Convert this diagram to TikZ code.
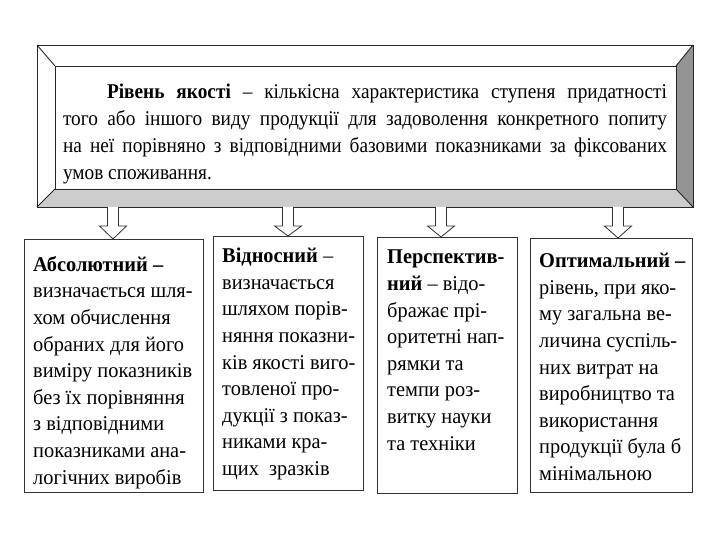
\documentclass[tikz,border=0pt]{standalone}
\usepackage{fontspec}
\setmainfont{Liberation Serif}
\newfontfamily\topfont{Liberation Serif}[FakeStretch=0.92]
\newfontfamily\boxfont{Liberation Serif}[FakeStretch=0.97]
\usetikzlibrary{calc}
\begin{document}
\begin{tikzpicture}[x=1pt,y=-1pt,line join=miter]
\useasboundingbox (0,0) rectangle (720,540);
\tikzset{
  frameline/.style={draw=black!85,line width=0.9pt},
  leaf/.style={draw=black!80,line width=1.1pt,fill=white,anchor=north west,inner sep=0pt},
  blockarrow/.style={draw=black!80,line width=0.8pt,fill=white},
  txt/.style={font=\boxfont\fontsize{21}{26.6}\selectfont,align=left,anchor=north west,inner sep=0pt},
  toptxt/.style={font=\topfont\fontsize{21}{27}\selectfont,align=justify,text width=604pt,inner sep=0pt,anchor=center}
}
% bevelled frame
\coordinate (o1) at (37,45);
\coordinate (o2) at (693,45);
\coordinate (o3) at (693,207);
\coordinate (o4) at (37,207);
\coordinate (i1) at (55,66);
\coordinate (i2) at (676,66);
\coordinate (i3) at (676,189);
\coordinate (i4) at (55,189);
\fill[white] (o1) -- (o2) -- (i2) -- (i1) -- cycle;
\fill[white] (o1) -- (i1) -- (i4) -- (o4) -- cycle;
\fill[black!42] (o2) -- (o3) -- (i3) -- (i2) -- cycle;
\fill[black!20] (i4) -- (i3) -- (o3) -- (o4) -- cycle;
\draw[frameline] (o1) rectangle (o3);
\draw[frameline] (i1) rectangle (i3);
\draw[frameline] (o1) -- (i1) (o2) -- (i2) (o3) -- (i3) (o4) -- (i4);
\node[toptxt] (def) at (365,134) {\hspace*{44pt}\textbf{Рівень якості} – кількісна характеристика ступеня придатності\linebreak того або іншого виду продукції для задоволення конкретного попиту\linebreak на неї порівняно з відповідними базовими показниками за фіксованих\linebreak умов споживання.};
% lower boxes
\node[leaf,minimum width=179pt,minimum height=253pt] (b1) at (24,239) {};
\node[leaf,minimum width=150pt,minimum height=254pt] (b2) at (213,236) {};
\node[leaf,minimum width=140pt,minimum height=256pt] (b3) at (377,237) {};
\node[leaf,minimum width=162pt,minimum height=254pt] (b4) at (530,238) {};
% block arrows
\foreach \b/\ax in {b1/113,b2/288,b3/441,b4/618}{
  \draw[blockarrow] ($(\ax-5.5,0)+(0,207)$) -- ($(\ax-5.5,0)+(0,226)$) -- ($(\ax-13.5,0)+(0,226)$)
    -- (\ax,0 |- \b.north) -- ($(\ax+13.5,0)+(0,226)$) -- ($(\ax+5.5,0)+(0,226)$) -- ($(\ax+5.5,0)+(0,207)$);
}
% texts
\node[txt] (t1) at ($(b1.north west)+(9,17)$) {\textbf{Абсолютний –}\\визначається шля-\\хом обчислення\\обраних для його\\виміру показників\\без їх порівняння\\з відповідними\\показниками ана-\\логічних виробів};
\node[txt] (t2) at ($(b2.north west)+(9,12)$) {\textbf{Відносний} –\\визначається\\шляхом порів-\\няння показни-\\ків якості виго-\\товленої про-\\дукції з показ-\\никами кра-\\щих\ \ зразків};
\node[txt] (t3) at ($(b3.north west)+(10,13)$) {\textbf{Перспектив-}\\\textbf{ний} – відо-\\бражає прі-\\оритетні нап-\\рямки та\\темпи роз-\\витку науки\\та техніки};
\node[txt] (t4) at ($(b4.north west)+(9,15)$) {\textbf{Оптимальний –}\\рівень, при яко-\\му загальна ве-\\личина суспіль-\\них витрат на\\виробництво та\\використання\\продукції була б\\мінімальною};
\end{tikzpicture}
\end{document}
